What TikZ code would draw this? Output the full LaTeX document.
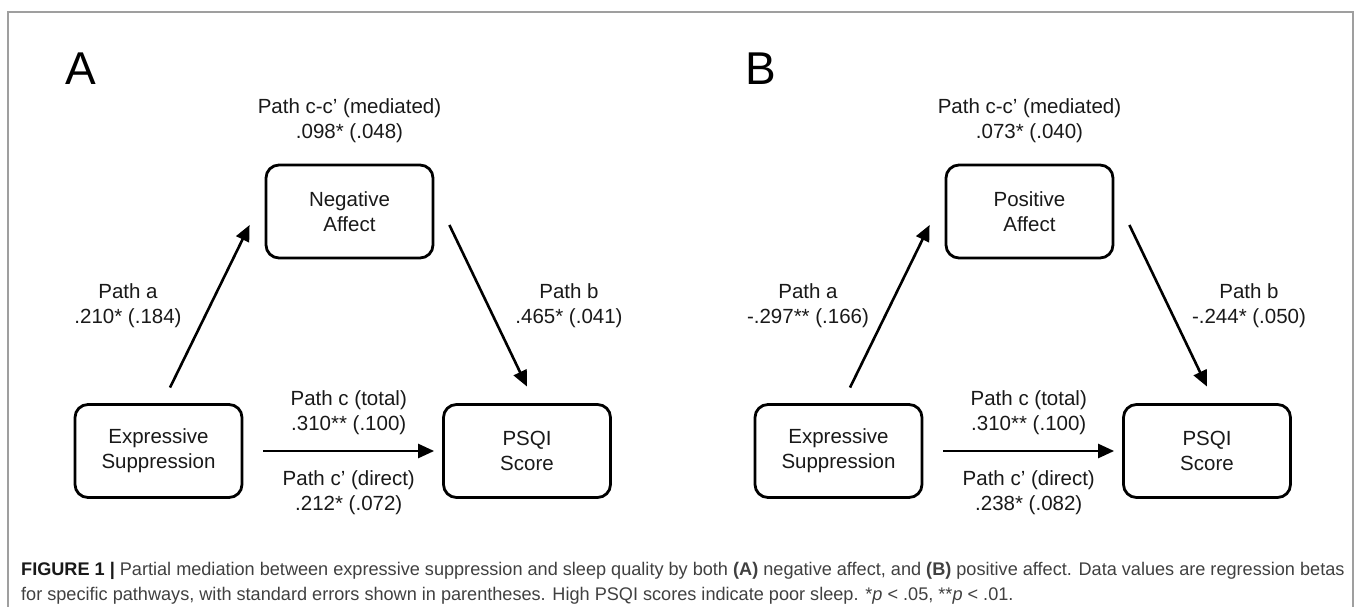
\documentclass[tikz,border=0pt]{standalone}
\usepackage{fontspec}
\setmainfont{Liberation Sans}
\newfontfamily\capfont[FakeStretch=0.99]{Liberation Sans}
\usetikzlibrary{arrows.meta}

\begin{document}
\begin{tikzpicture}[x=1pt, y=1pt, node distance=239.5pt]
  \tikzstyle{construct} = [rectangle, draw, line width=2.8pt, rounded corners=13pt, text=black!90,
                           minimum width=167pt, minimum height=93pt, align=center,
                           font=\fontsize{20.5}{25}\selectfont]
  \tikzstyle{pathlabel} = [align=center, inner sep=0pt, text=black!90, font=\fontsize{20.5}{25}\selectfont]
  \tikzstyle{effect} = [-{Triangle[length=16pt,width=14pt]}, line width=2.6pt]
  \tikzstyle{panel} = [anchor=base west, inner sep=0pt, font=\fontsize{46}{46}\selectfont]
  \tikzstyle{caption} = [anchor=base west, inner sep=0pt, text=black!75, font=\capfont\fontsize{18.3}{25}\selectfont]

\useasboundingbox (0,0) rectangle (1357,606);
\draw[gray!75, line width=1.5pt] (8,-2) |- (1353,594) -- (1353,-2);

% panel A
\node[panel] (labA) at (65,521) {A};
\node[construct] (NA) at (349.5,394.5) {Negative\\Affect};
\node[construct, below of=NA, xshift=-191pt] (ESa) {Expressive\\Suppression};
\node[construct, below of=NA, xshift=177.5pt] (PSa) {PSQI\\Score};
\node[pathlabel, node distance=91pt, above of=NA] (medA) {Path c-c' (mediated)\\.098* (.048)};
\node[pathlabel, node distance=145pt, above of=ESa, xshift=-30.5pt] (pa) {Path a\\.210* (.184)};
\node[pathlabel, node distance=145pt, above of=PSa, xshift=42pt] (pb) {Path b\\.465* (.041)};
\draw[effect] ([xshift=11.5pt,yshift=15.5pt]ESa.north) -- ([xshift=-15pt,yshift=-13.5pt]NA.west);
\draw[effect] ([xshift=15pt,yshift=-13.5pt]NA.east) -- ([yshift=16.5pt]PSa.north);
\draw[effect] ([xshift=20pt]ESa.east) -- node[pathlabel, above=15pt]{Path c (total)\\.310** (.100)}
  node[pathlabel, below=18pt]{Path c' (direct)\\.212* (.072)} ([xshift=-8pt]PSa.west);

% panel B
\node[panel] (labB) at (745,521) {B};
\node[construct, node distance=680pt, right of=NA] (PA) {Positive\\Affect};
\node[construct, below of=PA, xshift=-191pt] (ESb) {Expressive\\Suppression};
\node[construct, below of=PA, xshift=177.5pt] (PSb) {PSQI\\Score};
\node[pathlabel, node distance=91pt, above of=PA] (medB) {Path c-c' (mediated)\\.073* (.040)};
\node[pathlabel, node distance=145pt, above of=ESb, xshift=-30.5pt] (pa2) {Path a\\-.297** (.166)};
\node[pathlabel, node distance=145pt, above of=PSb, xshift=42pt] (pb2) {Path b\\-.244* (.050)};
\draw[effect] ([xshift=11.5pt,yshift=15.5pt]ESb.north) -- ([xshift=-15pt,yshift=-13.5pt]PA.west);
\draw[effect] ([xshift=15pt,yshift=-13.5pt]PA.east) -- ([yshift=16.5pt]PSb.north);
\draw[effect] ([xshift=20pt]ESb.east) -- node[pathlabel, above=15pt]{Path c (total)\\.310** (.100)}
  node[pathlabel, below=18pt]{Path c' (direct)\\.238* (.082)} ([xshift=-8pt]PSb.west);

% caption
\node[caption] (cap1) at (21,31) {\textbf{\color{black!90}FIGURE 1 |} Partial mediation between expressive suppression and sleep quality by both \textbf{(A)} negative affect, and \textbf{(B)} positive affect. Data values are regression betas};
\node[caption] (cap2) at (21,6) {for specific pathways, with standard errors shown in parentheses. High PSQI scores indicate poor sleep. *\textit{p} < .05, **\textit{p} < .01.};
\end{tikzpicture}
\end{document}
